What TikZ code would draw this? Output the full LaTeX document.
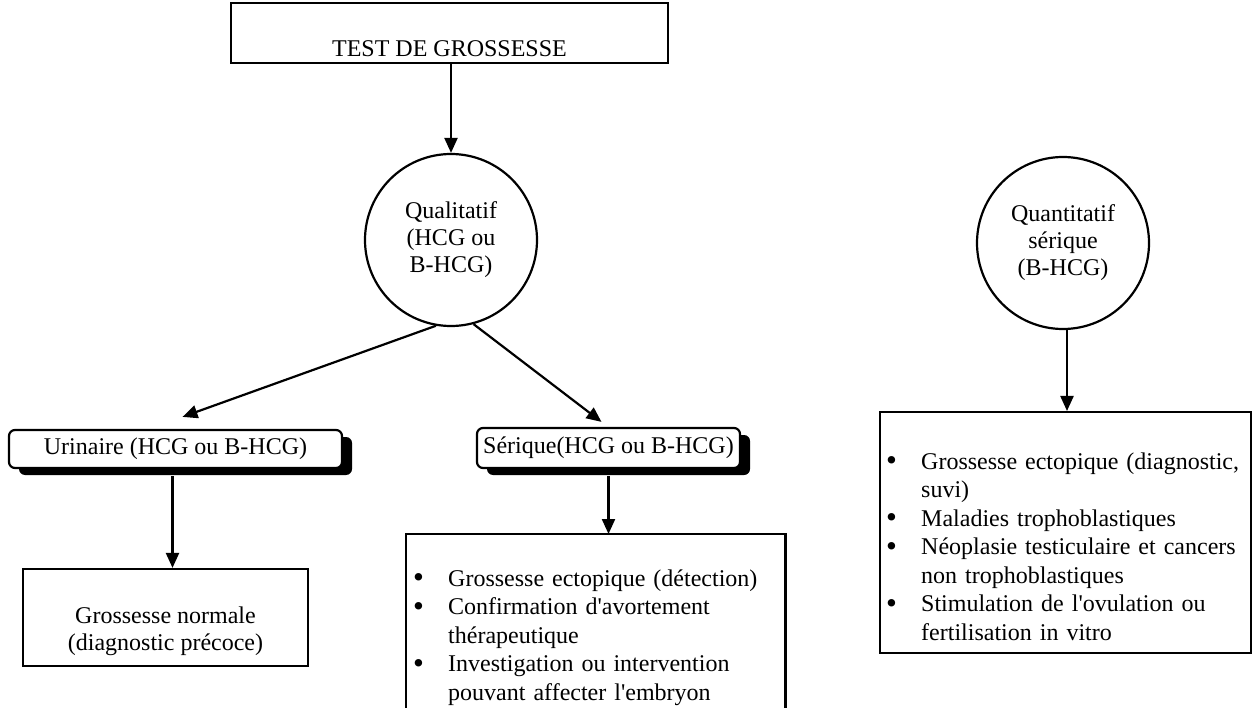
\documentclass[tikz,border=0pt]{standalone}
\usepackage{fontspec}
\setmainfont{Liberation Serif}
\usetikzlibrary{arrows.meta,shadows,calc}
% bullet line and continuation line of a list
\newcommand\bulline[1]{\makebox[35pt][l]{\raisebox{-1.5pt}{\fontsize{31}{0}\selectfont •}}#1}
\newcommand\contline[1]{\hspace*{35pt}#1}
\begin{document}
\begin{tikzpicture}[x=1pt,y=-1pt,
  txt/.style={font=\fontsize{24}{28.5}\selectfont, inner sep=0pt},
  frame/.style={draw, line width=2.2pt, inner sep=0pt},
  roundcirc/.style={circle, draw, line width=2.2pt, minimum size=172pt, inner sep=0pt,
    align=center, font=\fontsize{24}{27}\selectfont},
  tagbox/.style={draw, line width=2.2pt, rounded corners=6pt, fill=white, inner sep=0pt,
    font=\fontsize{24}{28.5}\selectfont,
    drop shadow={shadow xshift=10pt, shadow yshift=-7pt, opacity=1, fill=black}},
  listtxt/.style={txt, anchor=base west, text width=365pt, align=left},
  arr/.style={line width=2.2pt, -{Triangle[length=15pt,width=13pt]}}
]
\useasboundingbox (0,0) rectangle (1253,708);

% title box
\node[frame, minimum width=437pt, minimum height=60pt] (test) at (449.5,33) {};
\node[txt, anchor=base] (testlbl) at (449.5,57) {TEST DE GROSSESSE};

% the two kinds of test
\node[roundcirc] (qual) at (451,240) {Qualitatif\\(HCG ou\\B-HCG)};
\node[roundcirc] (quant) at (1063,243) {Quantitatif\\sérique\\(B-HCG)};

% qualitative branches
\node[tagbox, minimum width=333pt, minimum height=38pt] (urin) at (175.5,449) {Urinaire (HCG ou B-HCG)};
\node[tagbox, minimum width=263pt, minimum height=40pt] (ser) at (608.5,448) {Sérique(HCG ou B-HCG)};

% urinary result
\node[frame, minimum width=285pt, minimum height=97pt] (normal) at (165.5,617.5) {};
\node[txt, anchor=base, align=center, font=\fontsize{24}{26.5}\selectfont] (normaltxt) at (165.5,650)
  {Grossesse normale\\(diagnostic précoce)};

% serum uses (box runs past the lower edge)
\node[inner sep=0pt, minimum width=379pt, minimum height=174pt, anchor=north west] (slist) at (406,534) {};
\draw[line width=2.2pt] (slist.south west) -- (slist.north west) -- (slist.north east) -- (slist.south east);
\node[listtxt] (slisttxt) at (413,586) {%
  \bulline{Grossesse ectopique (détection)}\\
  \bulline{Confirmation d\textquotesingle avortement}\\
  \contline{thérapeutique}\\
  \bulline{Investigation ou intervention}\\
  \contline{pouvant affecter l\textquotesingle embryon}};

% quantitative uses
\node[frame, minimum width=371pt, minimum height=241pt, anchor=north west] (rlist) at (879,411) {};
\node[listtxt] (rlisttxt) at (886,469) {%
  \bulline{Grossesse ectopique (diagnostic,}\\
  \contline{suvi)}\\
  \bulline{Maladies trophoblastiques}\\
  \bulline{Néoplasie testiculaire et cancers}\\
  \contline{non trophoblastiques}\\
  \bulline{Stimulation de l\textquotesingle ovulation ou}\\
  \contline{fertilisation in vitro}};

% connectors
\draw[arr] (qual.north |- test.south) -- (qual.north);
\draw[arr] (qual.260) -- ($(urin.north)+(7,-12)$);
\draw[arr] (qual.285) -- ($(ser.north)+(-7,-5)$);
\draw[arr] ([xshift=-3pt,yshift=-7pt]urin.south) -- ([xshift=-3pt]urin.south |- normal.north);
\draw[arr] ([yshift=-7pt]ser.south) -- (ser.south |- slist.north);
\draw[arr] ([xshift=4pt]quant.south) -- ([xshift=4pt]quant.south |- rlist.north);
\end{tikzpicture}
\end{document}
